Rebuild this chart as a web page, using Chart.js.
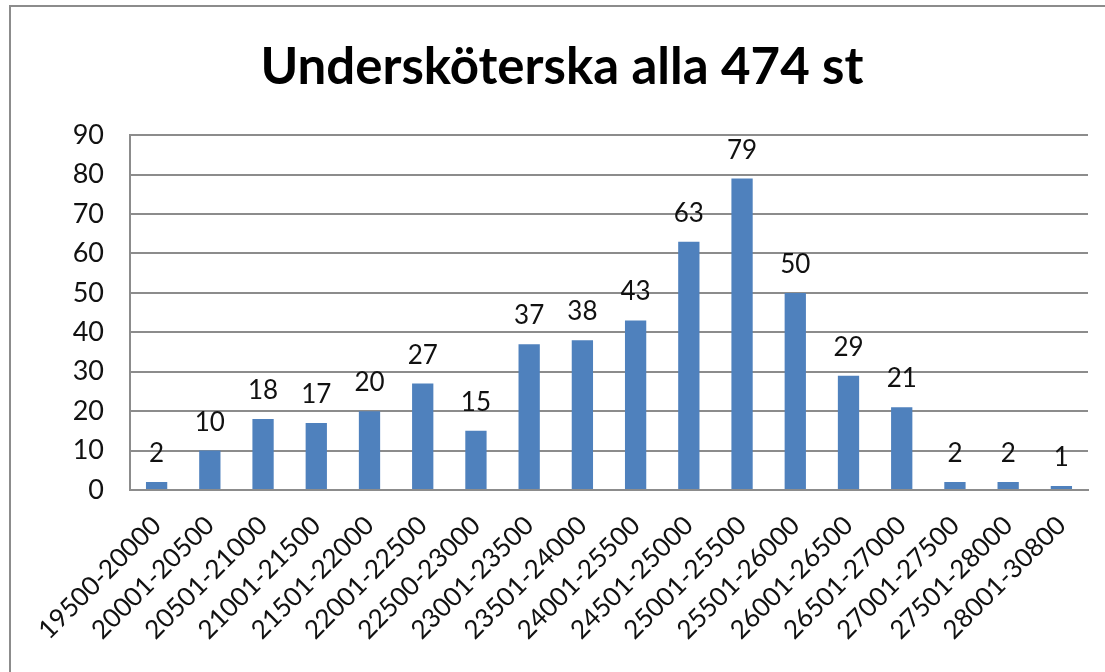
<!DOCTYPE html>
<html>
<head>
<meta charset="utf-8">
<script src="https://cdn.jsdelivr.net/npm/chart.js@4.4.0/dist/chart.umd.min.js"></script>
<style>
  html, body { margin: 0; padding: 0; background: #fff; }
  #wrap { width: 1105px; height: 672px; position: relative; }
</style>
</head>
<body>
<div id="wrap"><canvas id="chart" width="1105" height="672"></canvas></div>
<script>
// Undersköterska – antal per lönespann
const categories = [
    '19500-20000', '20001-20500', '20501-21000', '21001-21500', '21501-22000',
    '22001-22500', '22500-23000', '23001-23500', '23501-24000', '24001-25500',
    '24501-25000', '25001-25500', '25501-26000', '26001-26500', '26501-27000',
    '27001-27500', '27501-28000', '28001-30800'
];
const counts = [2, 10, 18, 17, 20, 27, 15, 37, 38, 43, 63, 79, 50, 29, 21, 2, 2, 1];
const yTicks = [0, 10, 20, 30, 40, 50, 60, 70, 80, 90];

const FONT = 'Lato, "Open Sans", sans-serif';

// frame line like the spreadsheet chart border (left + top only visible)
const framePlugin = {
    id: 'frame',
    beforeDraw(chart) {
        const ctx = chart.ctx;
        ctx.save();
        ctx.strokeStyle = '#8c8c8c';
        ctx.lineWidth = 2;
        ctx.beginPath();
        ctx.moveTo(10, 700);
        ctx.lineTo(10, 6);
        ctx.lineTo(1200, 6);
        ctx.stroke();
        ctx.restore();
    }
};

// value labels above each bar
const valueLabels = {
    id: 'valueLabels',
    afterDatasetsDraw(chart) {
        const ctx = chart.ctx;
        const meta = chart.getDatasetMeta(0);
        ctx.save();
        ctx.font = '26px ' + FONT;
        ctx.fillStyle = '#111';
        ctx.textAlign = 'center';
        ctx.textBaseline = 'alphabetic';
        meta.data.forEach((bar, i) => {
            ctx.fillText(String(counts[i]), bar.x, bar.y - 20);
        });
        ctx.restore();
    }
};

new Chart(document.getElementById('chart'), {
    type: 'bar',
    data: {
        labels: categories,
        datasets: [{
            data: counts,
            backgroundColor: '#4f81bd',
            borderWidth: 0,
            barPercentage: 0.4,
            categoryPercentage: 1.0
        }]
    },
    options: {
        responsive: false,
        animation: false,
        layout: { padding: { left: 36, right: 17, top: 0, bottom: 0 } },
        plugins: {
            legend: { display: false },
            tooltip: { enabled: false },
            title: {
                display: true,
                text: 'Undersköterska alla 474 st',
                color: '#000',
                font: { family: FONT, size: 51, weight: 'bold' },
                padding: { top: 37, bottom: 37 }
            }
        },
        scales: {
            x: {
                grid: { display: false, drawTicks: false },
                border: { display: true, color: '#8c8c8c', width: 2 },
                ticks: {
                    color: '#111',
                    font: { family: FONT, size: 26 },
                    minRotation: 45,
                    maxRotation: 45,
                    autoSkip: false,
                    padding: 20
                },
                afterFit: s => { s.height = 182; }
            },
            y: {
                min: 0,
                max: 90,
                afterBuildTicks: s => { s.ticks = yTicks.map(v => ({ value: v })); },
                grid: { color: '#8c8c8c', lineWidth: 2, drawTicks: false },
                border: { display: true, color: '#8c8c8c', width: 2 },
                ticks: {
                    color: '#111',
                    font: { family: FONT, size: 27 },
                    padding: 26
                },
                afterFit: s => { s.width = 94; }
            }
        }
    },
    plugins: [framePlugin, valueLabels]
});
</script>
</body>
</html>
